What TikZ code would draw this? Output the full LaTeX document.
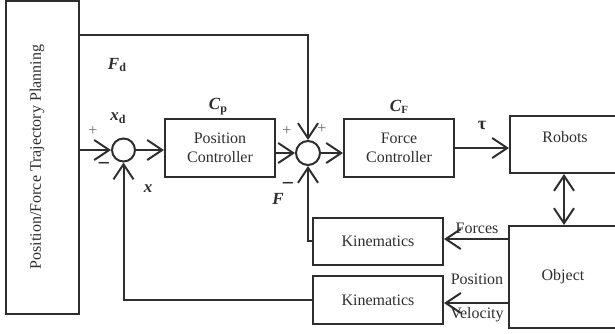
\documentclass[tikz,border=0pt]{standalone}
\usepackage{fontspec}
\setmainfont{Liberation Serif}
\usetikzlibrary{arrows.meta,calc}
\definecolor{ink}{HTML}{2e2e2e}
\definecolor{plusc}{HTML}{666666}
\begin{document}
\begin{tikzpicture}[x=1pt,y=-1pt,
  every node/.style={text=ink},
  box/.style={draw=ink, line width=2pt, rectangle, inner sep=0pt, align=center,
    font=\fontsize{16}{19}\selectfont},
  sumc/.style={draw=ink, line width=2pt, circle, inner sep=0pt},
  arr/.style={draw=ink, line width=2pt, -{Straight Barb[length=15pt,width=20pt]}},
  dbl/.style={draw=ink, line width=2pt, {Straight Barb[length=15pt,width=20pt]}-{Straight Barb[length=15pt,width=20pt]}},
  sig/.style={font=\fontsize{17}{17}\selectfont\bfseries\itshape},
  txt/.style={font=\fontsize{16}{19}\selectfont},
  pl/.style={text=plusc, font=\fontsize{16}{16}\selectfont},
  mi/.style={font=\fontsize{22}{22}\selectfont\bfseries}
]
\useasboundingbox (0,0) rectangle (615,333);

% blocks
\node[box, minimum width=73pt, minimum height=313pt] (plan) at (42.5,157) {};
\node[txt, rotate=90] (plantext) at (37,157) {Position/Force Trajectory Planning};
\node[box, minimum width=110pt, minimum height=58pt] (pc) at (220,148) {Position\\Controller};
\node[box, minimum width=110pt, minimum height=58pt] (fc) at (399,148) {Force\\Controller};
\node[box, minimum width=110pt, minimum height=57pt] (rob) at (565,144.5) {};
\node[txt] (robtext) at (565,137) {Robots};
\node[box, minimum width=108pt, minimum height=102pt] (obj) at (563,277) {Object};
\node[box, minimum width=130pt, minimum height=47pt] (k1) at (378,241) {Kinematics};
\node[box, minimum width=130pt, minimum height=48pt] (k2) at (378,300) {Kinematics};
\node[sumc, minimum size=23pt] (s1) at (123.5,150) {};
\node[sumc, minimum size=24pt] (s2) at (308,153) {};
\coordinate (topy) at (0,35);

% connectors
\draw[arr] (s1 -| plan.east) -- (s1.west);
\draw[arr] (s1.east) -- (s1.east -| pc.west);
\draw[arr] (s2.west -| pc.east) -- (s2.west);
\draw[arr] (s2.east) -- (s2.east -| fc.west);
\draw[arr] (fc.east) -- (fc.east -| rob.west);
\draw[arr] (topy -| plan.east) -- (topy -| s2) -- (s2.north);
\draw[arr] (k1.west) -- (k1.west -| s2) -- (s2.south);
\draw[arr] (k2.west) -- (k2.west -| s1) -- (s1.south);
\draw[arr] ([yshift=2pt]k1.east -| obj.west) -- ([yshift=2pt]k1.east);
\draw[arr] ([yshift=-3pt]k2.east -| obj.west) -- ([yshift=-3pt]k2.east);
\draw[dbl] (rob.south -| 564,0) -- (obj.north -| 564,0);

% labels
\node[sig] (lfd) at (117,65) {F\raisebox{-0.35ex}{\fontsize{12}{12}\selectfont\upshape d}};
\node[sig] (lxd) at (118,118) {x\raisebox{-0.35ex}{\fontsize{12}{12}\selectfont\upshape d}};
\node[sig] (lx) at (148,189) {x};
\node[sig] (lcp) at (218,107) {C\raisebox{-0.35ex}{\fontsize{12}{12}\selectfont\upshape p}};
\node[sig] (lf) at (278,199) {F};
\node[sig] (lcf) at (399,107) {C\raisebox{-0.35ex}{\fontsize{11}{11}\selectfont\upshape F}};
\node[font=\fontsize{18}{18}\selectfont\bfseries] (ltau) at (482,125) {τ};
\node[pl] (p1) at (93,131) {+};
\node[mi] (m1) at (104,166) {−};
\node[pl] (p2) at (287,131) {+};
\node[pl] (p3) at (322,129) {+};
\node[mi] (m2) at (288,186) {−};
\node[txt] (lforces) at (477,228) {Forces};
\node[txt] (lpos) at (477,279) {Position};
\node[txt] (lvel) at (477,315) {Velocity};
\end{tikzpicture}
\end{document}
